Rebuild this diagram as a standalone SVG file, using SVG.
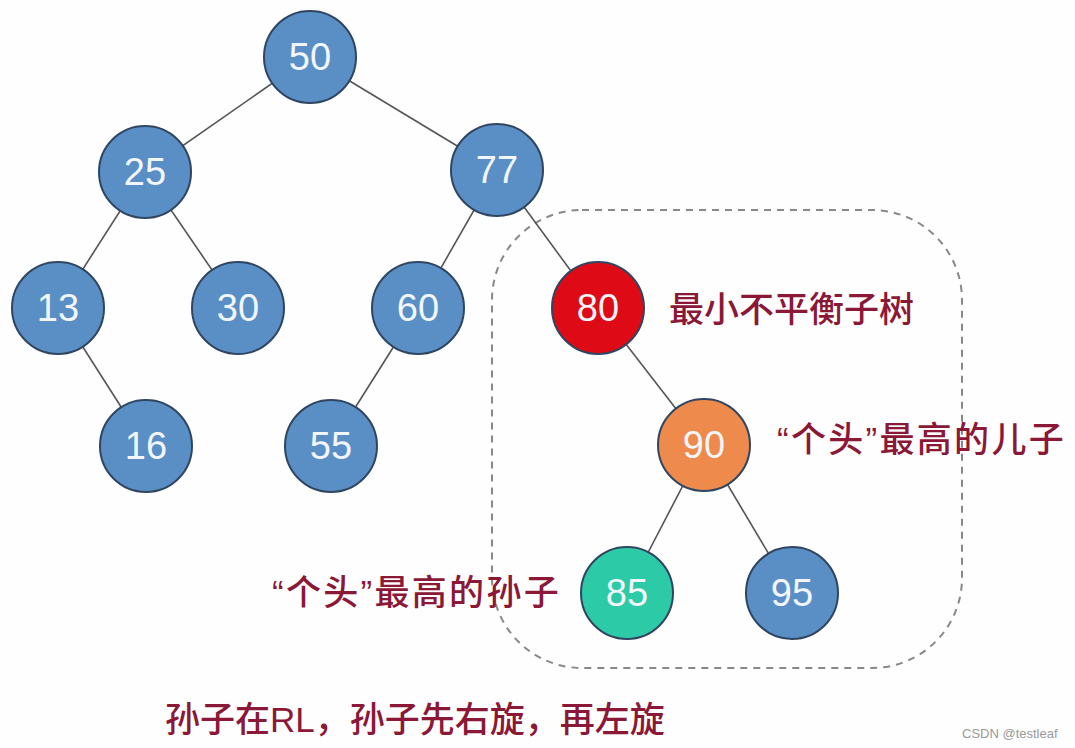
<svg xmlns="http://www.w3.org/2000/svg" width="1075" height="748" viewBox="0 0 1075 748">
<style>
.n circle{stroke:#2f4560;stroke-width:2}
.b circle{fill:#5a8fc6}
.n text{font-family:"Liberation Sans",Arial,sans-serif;font-size:38px;fill:#f2f6fa;text-anchor:middle;dominant-baseline:central}
.lbl{font-family:"Liberation Sans","Noto Sans CJK SC",sans-serif;font-size:35px;font-weight:500;fill:#8a1836}
.q{letter-spacing:2.3px}
.e line{stroke:#555;stroke-width:1.6}
</style>
<rect width="1075" height="748" fill="#fefefe"/>
<rect x="492" y="210" width="470" height="458" rx="90" ry="90" fill="none" stroke="#888" stroke-width="2" stroke-dasharray="7,6"/>
<g class="e">
<line x1="310" y1="57" x2="145" y2="172"/>
<line x1="310" y1="57" x2="497" y2="170"/>
<line x1="145" y1="172" x2="58" y2="308"/>
<line x1="145" y1="172" x2="238" y2="308"/>
<line x1="497" y1="170" x2="418" y2="308"/>
<line x1="497" y1="170" x2="598" y2="308"/>
<line x1="58" y1="308" x2="146" y2="446"/>
<line x1="418" y1="308" x2="331" y2="446"/>
<line x1="598" y1="308" x2="704" y2="445"/>
<line x1="704" y1="445" x2="627" y2="593"/>
<line x1="704" y1="445" x2="792" y2="593"/>
</g>
<g id="n50" class="n b"><circle cx="310" cy="57" r="46"/><text x="310" y="57">50</text></g>
<g id="n25" class="n b"><circle cx="145" cy="172" r="46"/><text x="145" y="172">25</text></g>
<g id="n77" class="n b"><circle cx="497" cy="170" r="46"/><text x="497" y="170">77</text></g>
<g id="n13" class="n b"><circle cx="58" cy="308" r="46"/><text x="58" y="308">13</text></g>
<g id="n30" class="n b"><circle cx="238" cy="308" r="46"/><text x="238" y="308">30</text></g>
<g id="n60" class="n b"><circle cx="418" cy="308" r="46"/><text x="418" y="308">60</text></g>
<g id="n80" class="n"><circle cx="598" cy="308" r="46" fill="#de0b17"/><text x="598" y="308">80</text></g>
<g id="n16" class="n b"><circle cx="146" cy="446" r="46"/><text x="146" y="446">16</text></g>
<g id="n55" class="n b"><circle cx="331" cy="446" r="46"/><text x="331" y="446">55</text></g>
<g id="n90" class="n"><circle cx="704" cy="445" r="46" fill="#ee8a4b"/><text x="704" y="445">90</text></g>
<g id="n85" class="n"><circle cx="627" cy="593" r="46" fill="#2ccaa6"/><text x="627" y="593">85</text></g>
<g id="n95" class="n b"><circle cx="792" cy="593" r="46"/><text x="792" y="593">95</text></g>
<text class="lbl" x="669" y="322">最小不平衡子树</text>
<text class="lbl q" x="777" y="452">“个头”最高的儿子</text>
<text class="lbl q" x="272" y="605">“个头”最高的孙子</text>
<text class="lbl" x="165" y="732">孙子在RL，孙子先右旋，再左旋</text>
<text x="962" y="738" font-family="Liberation Sans,Arial,sans-serif" font-size="13" fill="#999">CSDN @testleaf</text>
</svg>
